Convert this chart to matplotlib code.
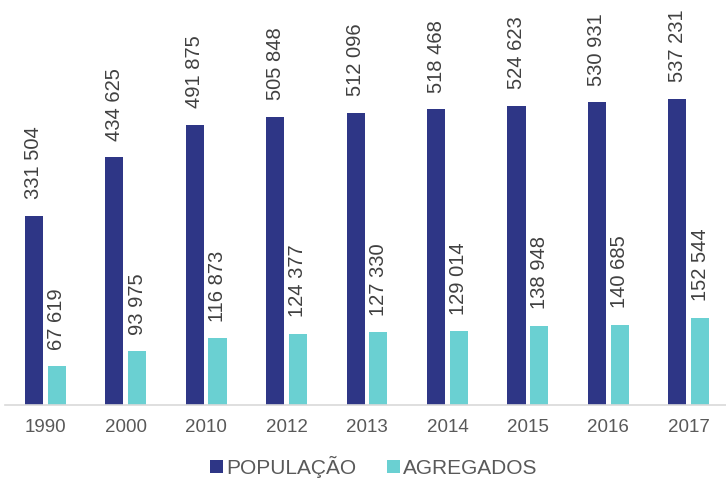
import matplotlib.pyplot as plt
import numpy as np

plt.rcParams['font.family'] = ['Liberation Sans', 'DejaVu Sans']

years = ['1990', '2000', '2010', '2012', '2013', '2014', '2015', '2016', '2017']
populacao = [331504, 434625, 491875, 505848, 512096, 518468, 524623, 530931, 537231]
agregados = [67619, 93975, 116873, 124377, 127330, 129014, 138948, 140685, 152544]

c_pop = '#2E3686'
c_agr = '#6AD0D2'

def fmt(v):
    return f"{v:,}".replace(',', ' ')

fig = plt.figure(figsize=(7.26, 4.79), dpi=100)
ax = fig.add_axes([5 / 726, 74 / 479, 724 / 726, 399 / 479])

x = np.arange(len(years))
w = 0.225
off = 0.142
b1 = ax.bar(x - off, populacao, w, color=c_pop, label='POPULAÇÃO')
b2 = ax.bar(x + off, agregados, w, color=c_agr, label='AGREGADOS')

for bars, vals in [(b1, populacao), (b2, agregados)]:
    for r, v in zip(bars, vals):
        ax.annotate(fmt(v), (r.get_x() + r.get_width() / 2, r.get_height()),
                    xytext=(0, 12), textcoords='offset points',
                    rotation=90, ha='center', va='bottom',
                    fontsize=14.5, color='#404040')

ax.set_xlim(-0.5, len(years) - 0.5)
ax.set_ylim(0, 700000)
ax.set_xticks(x)
ax.set_xticklabels(years, fontsize=13.5, color='#595959')
ax.tick_params(axis='x', length=0, pad=10)
ax.set_yticks([])
for s in ['top', 'right', 'left']:
    ax.spines[s].set_visible(False)
ax.spines['bottom'].set_color('#D9D9D9')
ax.spines['bottom'].set_linewidth(1.2)

fig.legend(handles=[b1, b2], loc='center', bbox_to_anchor=(374 / 726, 1 - 467 / 479),
           ncol=2, frameon=False, fontsize=15, labelcolor='#595959',
           handlelength=0.6, handleheight=0.6, handletextpad=0.15, columnspacing=1.5)

fig.savefig('out.png', dpi=100)
